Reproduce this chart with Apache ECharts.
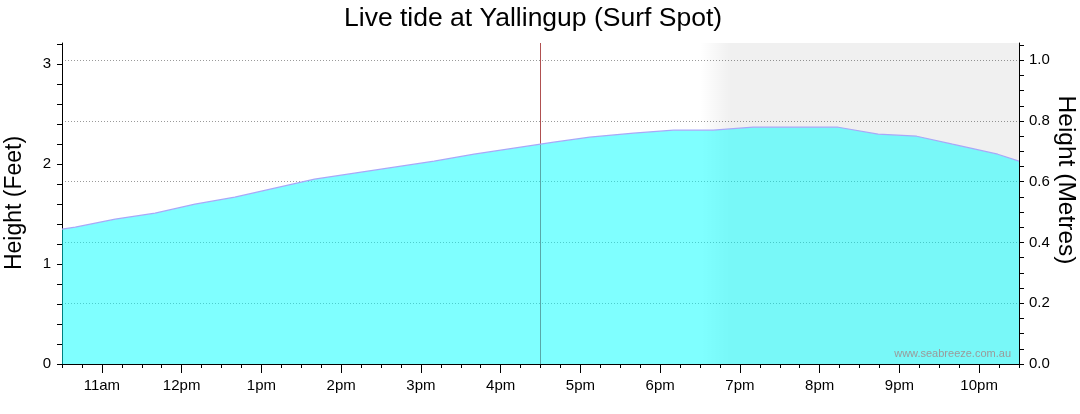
<!DOCTYPE html>
<html><head><meta charset="utf-8">
<script src="https://cdn.jsdelivr.net/npm/echarts@6/dist/echarts.min.js"></script>
<style>html,body{margin:0;padding:0;background:#fff}#c{width:1080px;height:414px}</style>
</head><body><div id="c"></div>
<script>
// ---- data ----
const chartTitle = 'Live tide at Yallingup (Surf Spot)';
const leftAxisName = 'Height (Feet)';
const rightAxisName = 'Height (Metres)';
const watermark = 'www.seabreeze.com.au';

const tideTimes = ['10:30','10:40','11:10','11:40','12:10','12:40','13:10','13:40','14:10','14:40','15:10','15:40','16:10','16:40','17:07','17:40','18:10','18:40','19:10','19:40','20:14','20:44','21:13','21:40','22:14','22:30'];
const tideFeet  = [1.35, 1.37, 1.45, 1.51, 1.60, 1.67, 1.76, 1.85, 1.91, 1.97, 2.03, 2.10, 2.16, 2.22, 2.27, 2.31, 2.34, 2.34, 2.37, 2.37, 2.37, 2.30, 2.28, 2.20, 2.10, 2.03];

const xTickHours  = [11,12,13,14,15,16,17,18,19,20,21,22];
const xTickLabels = ['11am','12pm','1pm','2pm','3pm','4pm','5pm','6pm','7pm','8pm','9pm','10pm'];
const feetLabels  = [0,1,2,3];
const metreLabels = [0,0.2,0.4,0.6,0.8,1.0];

const xStart = '10:30', xEnd = '22:30';
const nowTime = '16:30';
const nightStart = '18:30', nightFull = '18:53', nightEnd = '22:30';
const feetMax = 3.213, metreMax = 1.0566;

// ---- helpers ----
const toH = t => { const [h, m] = t.split(':').map(Number); return h + m / 60; };
const steps = (a, b, s) => { const r = []; for (let v = a; v <= b + 1e-9; v += s) r.push(Math.round(v * 1000) / 1000); return r; };
const quarterTicks = steps(toH(xStart), toH(xEnd), 0.25);
const feetTicks = steps(0, 3.2, 0.2);
const metreTicks = steps(0, 1.05, 0.05);
const FONT = 'Liberation Sans';

const chart = echarts.init(document.getElementById('c'), null, {renderer: 'canvas'});
chart.setOption({
  animation: false,
  backgroundColor: '#fff',
  title: {
    text: chartTitle, left: 344, top: 5, padding: 0,
    textStyle: {fontFamily: FONT, fontSize: 26.5, fontWeight: 'normal', color: '#000'}
  },
  grid: {left: 62, right: 61, top: 43, bottom: 50, containLabel: false},
  xAxis: [{
    type: 'value', min: toH(xStart), max: toH(xEnd),
    axisLine: {show: true, lineStyle: {color: '#000', width: 1}},
    axisTick: {show: true, customValues: xTickHours, length: 9, lineStyle: {color: '#000'}},
    axisLabel: {
      customValues: xTickHours, margin: 14,
      fontFamily: FONT, fontSize: 15, color: '#000',
      formatter: v => { let best = 0; xTickHours.forEach((h, i) => { if (Math.abs(h - v) < Math.abs(xTickHours[best] - v)) best = i; }); return xTickLabels[best]; }
    },
    splitLine: {show: false}
  }, {
    type: 'value', min: toH(xStart), max: toH(xEnd), position: 'bottom',
    axisLine: {show: false},
    axisTick: {show: true, customValues: quarterTicks, length: 4, lineStyle: {color: '#000'}},
    axisLabel: {show: false}, splitLine: {show: false}
  }],
  yAxis: [{
    type: 'value', position: 'left', min: 0, max: feetMax,
    axisLine: {show: true, lineStyle: {color: '#000'}},
    axisTick: {show: true, customValues: feetTicks, length: 5, lineStyle: {color: '#000'}},
    axisLabel: {customValues: feetLabels, margin: 11, fontFamily: FONT, fontSize: 15, color: '#000'},
    splitLine: {show: false}
  }, {
    type: 'value', position: 'right', min: 0, max: metreMax,
    axisLine: {show: true, lineStyle: {color: '#000'}},
    axisTick: {show: true, customValues: metreTicks, length: 5, lineStyle: {color: '#000'}},
    axisLabel: {customValues: metreLabels, margin: 10, fontFamily: FONT, fontSize: 15, color: '#000',
      formatter: v => v.toFixed(1)},
    splitLine: {show: false}
  }, {
    type: 'value', position: 'right', min: 0, max: metreMax, interval: 0.2,
    axisLine: {show: false}, axisTick: {show: false}, axisLabel: {show: false},
    splitLine: {show: true, showMinLine: false, showMaxLine: false,
      lineStyle: {color: '#9a9a9a', width: 1, type: [1, 2]}}
  }],
  series: [{
    type: 'custom', xAxisIndex: 0, yAxisIndex: 0, z: 1, silent: true, clip: true,
    data: [[toH(nightStart), toH(nightEnd), toH(nightFull)]],
    renderItem: (params, api) => {
      const s = api.coord([api.value(0), 0]);
      const e = api.coord([api.value(1), 0]);
      const f = api.coord([api.value(2), 0]);
      const cs = params.coordSys;
      const w = e[0] - s[0];
      const stop = Math.max(0, Math.min(1, (f[0] - s[0]) / w));
      return {
        type: 'rect',
        shape: {x: s[0], y: cs.y, width: w, height: cs.height},
        style: {fill: {type: 'linear', x: 0, y: 0, x2: 1, y2: 0, colorStops: [
          {offset: 0, color: 'rgba(0,0,0,0)'},
          {offset: stop, color: 'rgba(0,0,0,0.059)'},
          {offset: 1, color: 'rgba(0,0,0,0.059)'}]}}
      };
    }
  }, {
    type: 'line', xAxisIndex: 0, yAxisIndex: 0, z: 3, silent: true,
    data: [[toH(nowTime), 0], [toH(nowTime), feetMax]],
    showSymbol: false, lineStyle: {color: '#b05050', width: 1}
  }, {
    type: 'line', xAxisIndex: 0, yAxisIndex: 0, z: 10,
    data: tideTimes.map((t, i) => [toH(t), tideFeet[i]]),
    showSymbol: false, smooth: false,
    lineStyle: {color: '#a8a8f8', width: 1.2},
    areaStyle: {color: 'rgba(0,255,255,0.5)', opacity: 1}
  }],
  graphic: [{
    type: 'text', x: 15, y: 203, rotation: Math.PI / 2, z: 100,
    style: {text: leftAxisName, font: '23px "Liberation Sans"', fill: '#000', align: 'center', verticalAlign: 'middle'}
  }, {
    type: 'text', x: 1066, y: 180, rotation: -Math.PI / 2, z: 100,
    style: {text: rightAxisName, font: '24.5px "Liberation Sans"', fill: '#000', align: 'center', verticalAlign: 'middle'}
  }, {
    type: 'text', x: 1011, y: 354, z: 100,
    style: {text: watermark, font: '11px "Liberation Sans"', fill: '#9a9a9a', align: 'right', verticalAlign: 'middle'}
  }]
});
</script></body></html>
